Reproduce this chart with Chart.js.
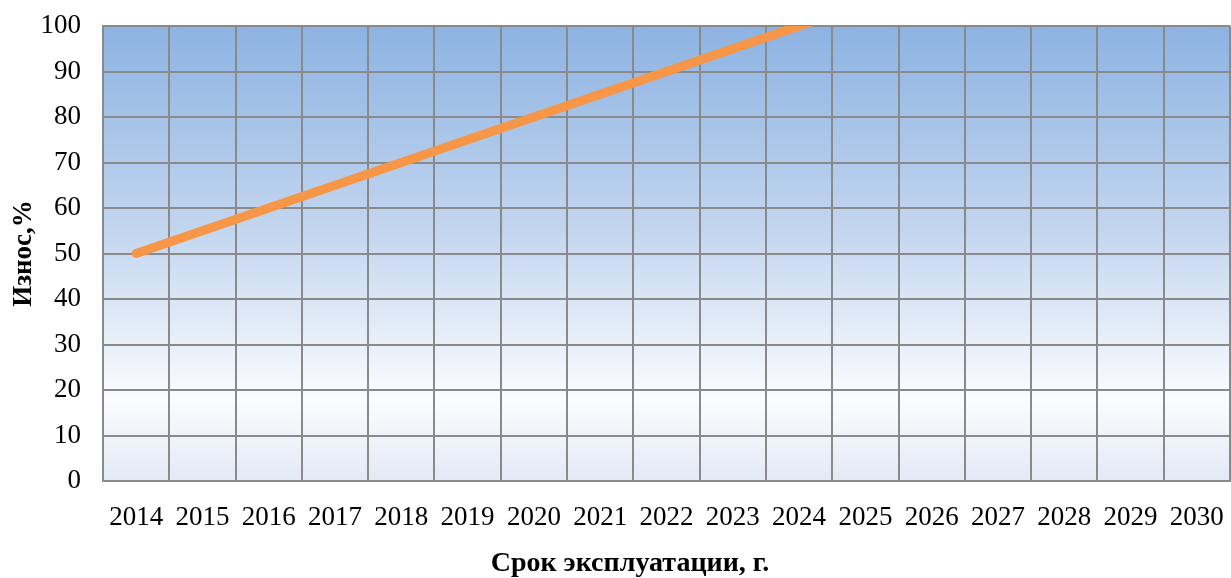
<!DOCTYPE html>
<html lang="ru">
  <head>
    <meta charset="UTF-8" />
    <title>Износ</title>
    <script src="https://cdn.jsdelivr.net/npm/chart.js@4.4.0/dist/chart.umd.min.js"></script>
    <style>
      html, body { margin: 0; padding: 0; background: #fff; }
      #wrap { width: 1231px; height: 578px; }
    </style>
  </head>
  <body>
    <div id="wrap"><canvas id="wearChart"></canvas></div>
    <script>
      // years on the x axis
      const years = ["2014", "2015", "2016", "2017", "2018", "2019", "2020", "2021", "2022",
                     "2023", "2024", "2025", "2026", "2027", "2028", "2029", "2030"];
      // wear, % — goes past 100 after 2024 and is cut off at the plot top
      const wear = [50, 55, 60, 65, 70, 75, 80, 85, 90, 95, 100,
                    105, 110, 115, 120, 125, 130];
      const yMin = 0, yMax = 100, yStep = 10;

      // blue gradient behind the plot area
      const plotBackground = {
        id: "plotBackground",
        beforeDraw(chart) {
          const { ctx, chartArea: a } = chart;
          const g = ctx.createLinearGradient(0, a.top, 0, a.bottom);
          g.addColorStop(0, "#8db3e2");
          g.addColorStop(0.45, "#c3d6ef");
          g.addColorStop(0.82, "#fbfcfe");
          g.addColorStop(1, "#e3e9f5");
          ctx.save();
          ctx.fillStyle = g;
          ctx.fillRect(a.left, a.top, a.right - a.left, a.bottom - a.top);
          ctx.restore();
        },
      };

      const serif = "'Liberation Serif', 'Times New Roman', serif";

      new Chart(document.getElementById("wearChart"), {
        type: "line",
        data: {
          labels: years,
          datasets: [
            {
              data: wear,
              borderColor: "#f79646",
              borderWidth: 9,
              borderCapStyle: "round",
              borderJoinStyle: "round",
              pointRadius: 0,
              tension: 0,
              clip: 0,
            },
          ],
        },
        options: {
          responsive: true,
          maintainAspectRatio: false,
          animation: false,
          layout: { padding: { top: 26, right: 1, left: 30, bottom: 0 } },
          plugins: {
            legend: { display: false },
            tooltip: { enabled: false },
            title: {
              display: true,
              position: "bottom",
              text: "Срок эксплуатации, г.",
              color: "#000",
              padding: { top: 0, bottom: 5 },
              font: { family: serif, size: 28, weight: "bold", lineHeight: 0.65 },
            },
          },
          scales: {
            x: {
              offset: true,
              grid: { offset: true, color: "#8a8a8a", lineWidth: 2, drawTicks: false },
              border: { color: "#8a8a8a", width: 2 },
              ticks: { color: "#000", padding: 21, font: { family: serif, size: 27 } },
              afterFit(scale) {
                scale.height = 73.8;
                scale.paddingLeft = 0;
                scale.paddingRight = 0;
              },
            },
            y: {
              min: yMin,
              max: yMax,
              grid: { color: "#8a8a8a", lineWidth: 2, drawTicks: false },
              border: { color: "#8a8a8a", width: 2 },
              ticks: { stepSize: yStep, color: "#000", padding: 22, font: { family: serif, size: 27 } },
              title: {
                display: true,
                text: "Износ,%",
                color: "#000",
                padding: { top: -19, bottom: 0 },
                font: { family: serif, size: 27, weight: "bold", lineHeight: 1 },
              },
              afterFit(scale) {
                scale.width = 73;
                scale.paddingTop = 0;
                scale.paddingBottom = 0;
              },
            },
          },
        },
        plugins: [plotBackground],
      });
    </script>
  </body>
</html>
